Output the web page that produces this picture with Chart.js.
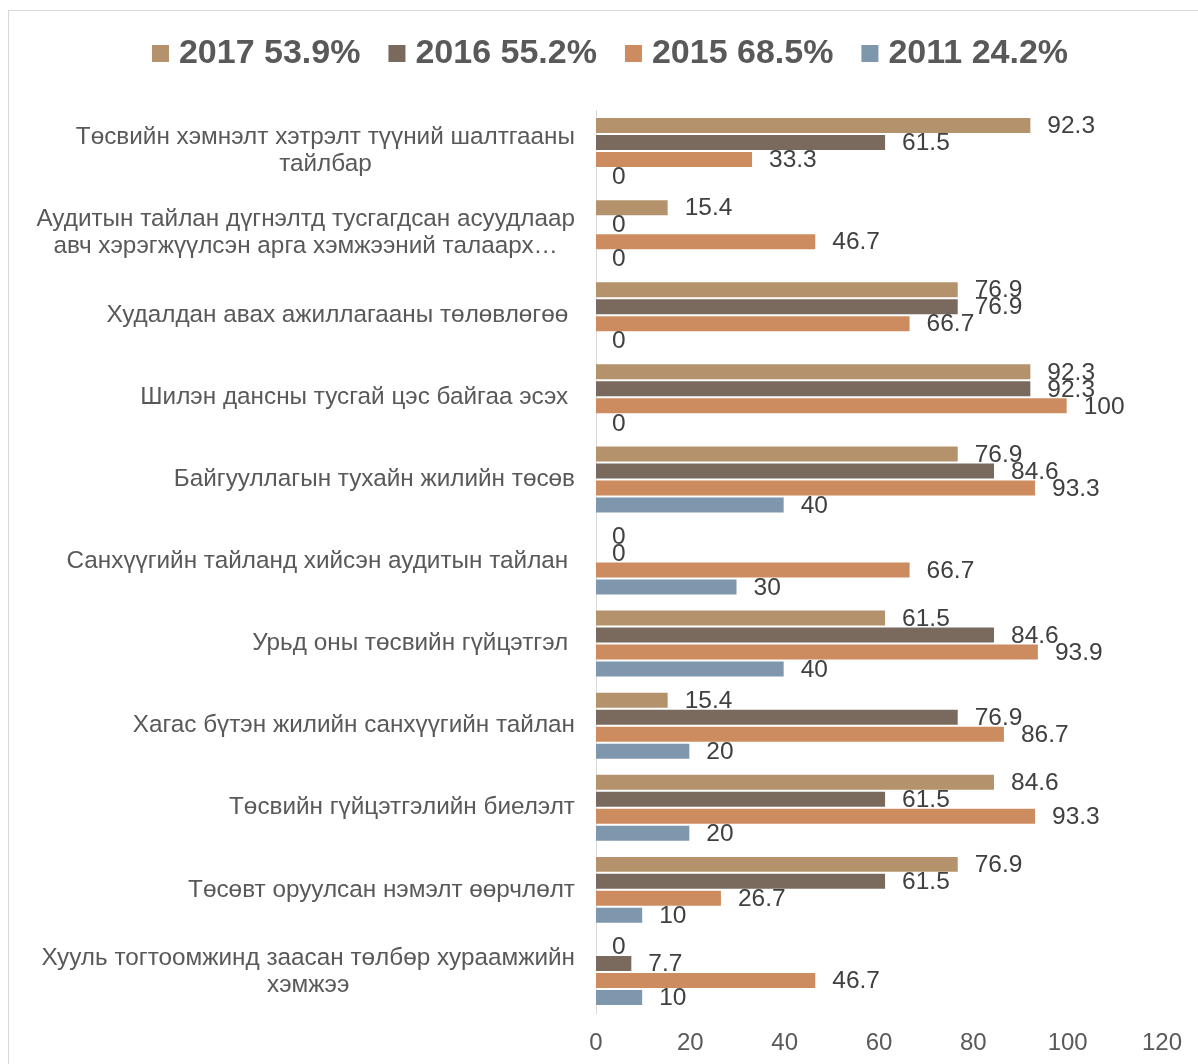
<!DOCTYPE html>
<html>
<head>
<meta charset="utf-8">
<title>Chart</title>
<script src="https://cdn.jsdelivr.net/npm/chart.js@4"></script>
<style>
  body { margin: 0; background: #fff; }
  canvas { display: block; }
</style>
</head>
<body>
<canvas id="chart" width="1198" height="1064"></canvas>
<script>
// Categories (multi-line labels kept as in the original)
const categories = [
  ['Төсвийн хэмнэлт хэтрэлт түүний шалтгааны', 'тайлбар'],
  ['Аудитын тайлан дүгнэлтд тусгагдсан асуудлаар', 'авч хэрэгжүүлсэн арга хэмжээний талаарх…'],
  ['Худалдан авах ажиллагааны төлөвлөгөө '],
  ['Шилэн дансны тусгай цэс байгаа эсэх '],
  ['Байгууллагын тухайн жилийн төсөв'],
  ['Санхүүгийн тайланд хийсэн аудитын тайлан '],
  ['Урьд оны төсвийн гүйцэтгэл '],
  ['Хагас бүтэн жилийн санхүүгийн тайлан'],
  ['Төсвийн гүйцэтгэлийн биелэлт'],
  ['Төсөвт оруулсан нэмэлт өөрчлөлт'],
  ['Хууль тогтоомжинд заасан төлбөр хураамжийн', 'хэмжээ']
];

const series2017 = [92.3, 15.4, 76.9, 92.3, 76.9, 0, 61.5, 15.4, 84.6, 76.9, 0];
const series2016 = [61.5, 0, 76.9, 92.3, 84.6, 0, 84.6, 76.9, 61.5, 61.5, 7.7];
const series2015 = [33.3, 46.7, 66.7, 100, 93.3, 66.7, 93.9, 86.7, 93.3, 26.7, 46.7];
const series2011 = [0, 0, 0, 0, 40, 30, 40, 20, 20, 10, 10];

const seriesNames = ['2017 53.9%', '2016 55.2%', '2015 68.5%', '2011 24.2%'];
const seriesColors = ['#b4926b', '#7a6a5e', '#cd8c60', '#7f97ad'];
const xTicks = [0, 20, 40, 60, 80, 100, 120];

const FONT = '"Liberation Sans", Arial, sans-serif';

// frame, legend, category labels and value labels
const decorPlugin = {
  id: 'decor',
  beforeDraw(chart) {
    const ctx = chart.ctx;
    ctx.save();
    ctx.strokeStyle = '#d9d9d9';
    ctx.lineWidth = 1;
    ctx.strokeRect(8.5, 10.5, 1400, 1400);
    ctx.restore();
  },
  afterDraw(chart) {
    const ctx = chart.ctx;
    ctx.save();

    // legend
    ctx.font = 'bold 34px ' + FONT;
    ctx.textBaseline = 'middle';
    ctx.textAlign = 'left';
    const widths = seriesNames.map(n => ctx.measureText(n).width);
    const total = widths.reduce((a, w) => a + 27 + w, 0) + 28 * (seriesNames.length - 1);
    let lx = 610 - total / 2;
    seriesNames.forEach((n, i) => {
      ctx.fillStyle = seriesColors[i];
      ctx.fillRect(lx, 45, 17, 17);
      ctx.fillStyle = '#595959';
      ctx.fillText(n, lx + 27, 54);
      lx += 27 + widths[i] + 28;
    });

    // category labels: block right-aligned, lines centred within block
    const yScale = chart.scales.y;
    ctx.font = '24.3px ' + FONT;
    ctx.fillStyle = '#595959';
    ctx.textAlign = 'center';
    categories.forEach((lines, i) => {
      const cy = yScale.getPixelForValue(i);
      const w = Math.max(...lines.map(l => ctx.measureText(l).width));
      const cx = 575 - w / 2;
      lines.forEach((l, j) => {
        ctx.fillText(l, cx, cy + (j - (lines.length - 1) / 2) * 27);
      });
    });

    // value labels
    ctx.font = '24.5px ' + FONT;
    ctx.fillStyle = '#404040';
    ctx.textAlign = 'left';
    chart.data.datasets.forEach((ds, di) => {
      const meta = chart.getDatasetMeta(di);
      meta.data.forEach((bar, i) => {
        ctx.fillText(String(ds.data[i]), bar.x + 16, bar.y + 1);
      });
    });

    ctx.restore();
  }
};

new Chart(document.getElementById('chart'), {
  type: 'bar',
  data: {
    labels: categories,
    datasets: [
      { label: seriesNames[0], data: series2017, backgroundColor: seriesColors[0] },
      { label: seriesNames[1], data: series2016, backgroundColor: seriesColors[1] },
      { label: seriesNames[2], data: series2015, backgroundColor: seriesColors[2] },
      { label: seriesNames[3], data: series2011, backgroundColor: seriesColors[3] }
    ].map(d => Object.assign(d, {
      borderColor: 'rgba(255,255,255,0.55)',
      borderWidth: 1,
      categoryPercentage: 0.828,
      barPercentage: 1
    }))
  },
  options: {
    indexAxis: 'y',
    responsive: false,
    animation: false,
    layout: { padding: { top: 110, right: 36, left: 0, bottom: 0 } },
    plugins: {
      legend: { display: false },
      tooltip: { enabled: false }
    },
    scales: {
      x: {
        min: 0,
        max: 120,
        afterBuildTicks: s => { s.ticks = xTicks.map(v => ({ value: v })); },
        afterFit: s => { s.height = 51; },
        grid: { display: false },
        border: { display: false },
        ticks: {
          color: '#595959',
          font: { size: 24, family: FONT },
          padding: 8
        }
      },
      y: {
        afterFit: s => { s.width = 596; },
        grid: { display: false },
        border: { display: true, color: '#d9d9d9', width: 1 },
        ticks: { display: false }
      }
    }
  },
  plugins: [decorPlugin]
});
</script>
</body>
</html>
